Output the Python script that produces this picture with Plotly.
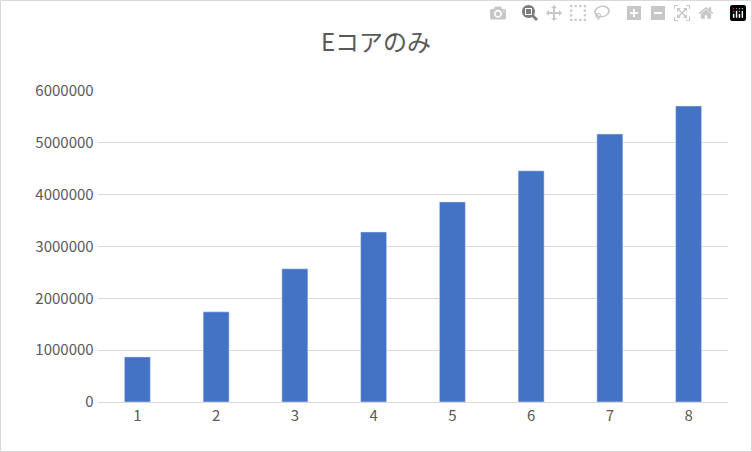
import plotly.graph_objects as go

categories = ["1", "2", "3", "4", "5", "6", "7", "8"]
values = [870000, 1740000, 2570000, 3280000, 3860000, 4460000, 5170000, 5710000]
title = "Eコアのみ"

L, R, T, B, W, H = 98, 24, 91, 50, 752, 452
pw, ph = W - L - R, H - T - B

fig = go.Figure(go.Bar(x=categories, y=values, marker_color="#4472C4", width=0.33))
fig.update_layout(
    width=W, height=H,
    margin=dict(l=L, r=R, t=T, b=B),
    paper_bgcolor="white", plot_bgcolor="white",
    title=dict(text=title, x=0.5, xanchor="center", y=0.905, yanchor="middle",
               font=dict(family="Noto Sans CJK JP", size=24, color="#595959")),
    font=dict(family="Noto Sans CJK JP", size=15, color="#595959"),
    showlegend=False,
    shapes=[dict(type="rect", xref="paper", yref="paper",
                 x0=-(L - 0.5) / pw, x1=1 + (R - 0.5) / pw,
                 y0=-(B - 0.5) / ph, y1=1 + (T - 0.5) / ph,
                 line=dict(color="#D9D9D9", width=1))],
)
fig.update_xaxes(showline=True, linecolor="#D9D9D9", ticks="", tickfont=dict(size=15))
fig.update_yaxes(range=[0, 6000000], dtick=1000000, gridcolor="#D9D9D9", zeroline=False,
                 tickformat="d", tickfont=dict(size=15), ticksuffix=" ")
fig.write_html("out.html", post_script="document.body.style.margin='0';")
